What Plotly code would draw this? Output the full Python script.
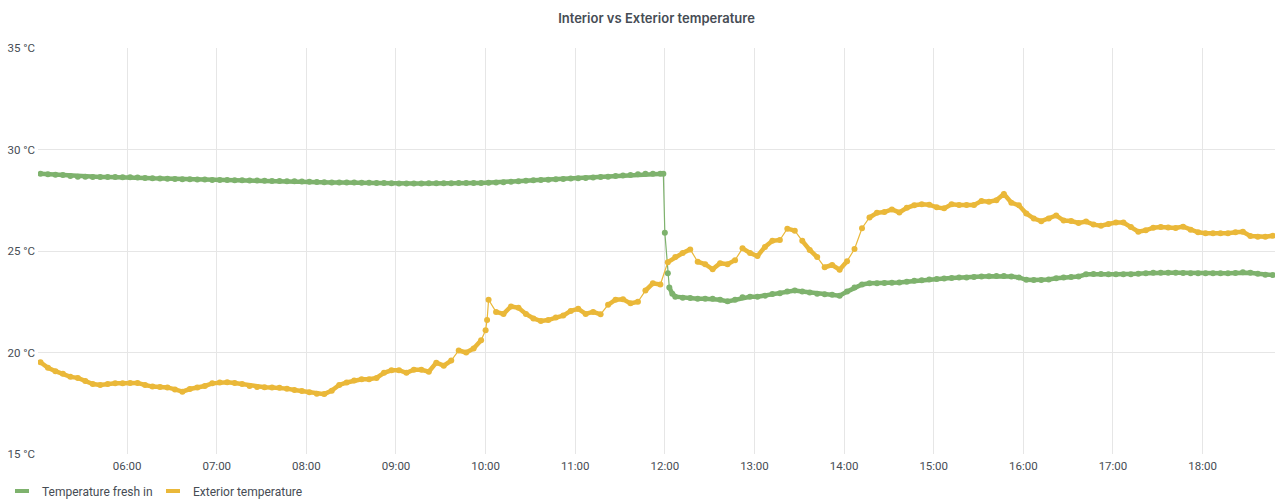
import pandas as pd
import plotly.graph_objects as go

# ---- data (5-minute samples from 05:02, one row per hour) ----
START = "2021-06-01 05:02"
exterior = [
    19.52, 19.25, 19.08, 18.95, 18.80, 18.75, 18.60, 18.45, 18.40, 18.45, 18.48, 18.48,  # 05
    18.50, 18.50, 18.40, 18.32, 18.30, 18.28, 18.18, 18.07, 18.20, 18.27, 18.35, 18.48,  # 06
    18.52, 18.53, 18.50, 18.45, 18.35, 18.30, 18.29, 18.28, 18.26, 18.22, 18.15, 18.10,  # 07
    18.04, 17.97, 17.95, 18.12, 18.40, 18.52, 18.62, 18.68, 18.68, 18.75, 19.00, 19.12,  # 08
    19.13, 19.00, 19.15, 19.15, 19.05, 19.50, 19.35, 19.60, 20.10, 20.00, 20.20, 20.60,  # 09
    22.60, 22.00, 21.90, 22.27, 22.20, 21.90, 21.68, 21.55, 21.60, 21.72, 21.82, 22.05,  # 10
    22.15, 21.90, 22.00, 21.88, 22.35, 22.60, 22.62, 22.42, 22.50, 23.05, 23.41, 23.35,  # 11
    24.45, 24.70, 24.90, 25.08, 24.47, 24.35, 24.10, 24.40, 24.35, 24.55, 25.13, 24.90,  # 12
    24.75, 25.20, 25.50, 25.54, 26.10, 26.00, 25.50, 25.05, 24.70, 24.20, 24.31, 24.08,  # 13
    24.50, 25.10, 26.12, 26.65, 26.88, 26.92, 27.05, 26.90, 27.13, 27.25, 27.30, 27.28,  # 14
    27.15, 27.10, 27.30, 27.27, 27.27, 27.27, 27.46, 27.43, 27.50, 27.81, 27.38, 27.25,  # 15
    26.85, 26.60, 26.47, 26.60, 26.75, 26.50, 26.48, 26.38, 26.45, 26.30, 26.25, 26.33,  # 16
    26.40, 26.40, 26.18, 25.95, 26.02, 26.15, 26.18, 26.16, 26.13, 26.20, 26.05, 25.92,  # 17
    25.88, 25.87, 25.87, 25.88, 25.92, 25.95, 25.74, 25.70, 25.70, 25.75,                # 18
]
exterior_extra_times = ["2021-06-01 10:00", "2021-06-01 10:01"]
exterior_extra = [21.10, 21.60]

interior = [
    28.80, 28.78, 28.76, 28.74, 28.70, 28.66, 28.66, 28.65, 28.65, 28.64, 28.64, 28.63,  # 05
    28.63, 28.62, 28.60, 28.58, 28.57, 28.56, 28.55, 28.53, 28.53, 28.52, 28.52, 28.50,  # 06
    28.50, 28.50, 28.49, 28.48, 28.47, 28.47, 28.46, 28.45, 28.45, 28.44, 28.43, 28.42,  # 07
    28.41, 28.40, 28.39, 28.38, 28.38, 28.37, 28.37, 28.36, 28.36, 28.35, 28.35, 28.34,  # 08
    28.33, 28.33, 28.33, 28.33, 28.34, 28.34, 28.34, 28.34, 28.35, 28.35, 28.35, 28.35,  # 09
    28.36, 28.37, 28.39, 28.41, 28.44, 28.46, 28.48, 28.50, 28.51, 28.53, 28.55, 28.57,  # 10
    28.58, 28.60, 28.62, 28.64, 28.66, 28.69, 28.72, 28.75, 28.78, 28.80, 28.80, 28.80,  # 11
    23.90, 22.75, 22.70, 22.68, 22.65, 22.65, 22.65, 22.60, 22.52, 22.60, 22.72, 22.75,  # 12
    22.75, 22.80, 22.88, 22.92, 23.00, 23.05, 23.00, 22.95, 22.90, 22.87, 22.84, 22.80,  # 13
    23.00, 23.20, 23.35, 23.41, 23.41, 23.42, 23.43, 23.45, 23.49, 23.53, 23.56, 23.60,  # 14
    23.62, 23.65, 23.67, 23.70, 23.70, 23.72, 23.74, 23.76, 23.77, 23.77, 23.74, 23.70,  # 15
    23.58, 23.57, 23.57, 23.60, 23.66, 23.70, 23.72, 23.74, 23.85, 23.87, 23.87, 23.86,  # 16
    23.85, 23.85, 23.86, 23.88, 23.91, 23.93, 23.93, 23.93, 23.93, 23.92, 23.91, 23.90,  # 17
    23.90, 23.90, 23.90, 23.90, 23.92, 23.95, 23.93, 23.88, 23.83, 23.82,                # 18
]
interior_extra_times = ["2021-06-01 11:59", "2021-06-01 12:00", "2021-06-01 12:03", "2021-06-01 12:05"]
interior_extra = [28.80, 25.90, 23.20, 22.90]

series_names = ["Temperature fresh in", "Exterior temperature"]
series_colors = ["#7EB26D", "#EAB839"]
title_text = "Interior vs Exterior temperature"
y_ticks = [15, 20, 25, 30, 35]


def build(values, extra_t, extra_v):
    s = pd.Series(values, index=pd.date_range(START, periods=len(values), freq="5min"))
    s = pd.concat([s, pd.Series(extra_v, index=pd.to_datetime(extra_t))]).sort_index()
    return s


def band(s, jump=0.45):
    # thick band through dense points, interrupted on steep jumps (drawn thin instead)
    xs, ys = [], []
    prev = None
    for t, v in s.items():
        if prev is not None and abs(v - prev) > jump:
            xs.append(None)
            ys.append(None)
        xs.append(t)
        ys.append(v)
        prev = v
    return xs, ys


s_int = build(interior, interior_extra_times, interior_extra)
s_ext = build(exterior, exterior_extra_times, exterior_extra)

fig = go.Figure()
for s, name, col in [(s_int, series_names[0], series_colors[0]),
                     (s_ext, series_names[1], series_colors[1])]:
    bx, by = band(s)
    fig.add_trace(go.Scatter(
        x=bx, y=by, mode="lines", connectgaps=False,
        line=dict(color=col, width=4.5), showlegend=False, hoverinfo="skip",
    ))
    fig.add_trace(go.Scatter(
        x=s.index, y=s.values, mode="lines+markers", name=name,
        line=dict(color=col, width=1.2),
        marker=dict(color=col, size=6, line=dict(width=0)),
        showlegend=False,
    ))
# legend entries (short bar symbols like Grafana)
for name, col in zip(series_names, series_colors):
    fig.add_trace(go.Scatter(
        x=[None], y=[None], mode="markers", name=name,
        marker=dict(symbol="line-ew", size=10, color=col,
                    line=dict(color=col, width=4)),
        showlegend=True,
    ))

font_main = "Roboto, Inter, sans-serif"
fig.update_layout(
    width=1277, height=500,
    margin=dict(l=38, r=2, t=48, b=46, autoexpand=False),
    paper_bgcolor="white", plot_bgcolor="white",
    font=dict(family=font_main, size=12, color="#464c54"),
    title=dict(text=title_text, x=0.5, xref="paper", xanchor="center",
               y=1 - 18 / 500, yref="container", yanchor="middle",
               font=dict(family="Inter, sans-serif", size=13, color="#464c54", weight=600)),
    showlegend=True,
    legend=dict(orientation="h", xref="container", yref="container",
                x=2 / 1277, xanchor="left", y=1 - 491 / 500, yanchor="middle",
                entrywidth=106, entrywidthmode="pixels",
                font=dict(size=12, color="#464c54"), itemclick=False,
                bgcolor="rgba(0,0,0,0)", tracegroupgap=0),
    hovermode="x",
)
fig.update_xaxes(
    type="date",
    range=["2021-06-01 05:00:20", "2021-06-01 18:48:30"],
    dtick=3600000, tickformat="%H:%M", automargin=False,
    showgrid=True, gridcolor="#e6e6e6", gridwidth=1,
    showline=False, zeroline=False, ticks="", ticklen=0, ticklabelstandoff=3,
    tickfont=dict(size=11.5, color="#464c54"),
)
fig.update_yaxes(
    range=[15, 35], tickvals=y_ticks, ticktext=[f"{v} °C" for v in y_ticks],
    automargin=False,
    showgrid=True, gridcolor="#e6e6e6", gridwidth=1,
    showline=False, zeroline=False, ticks="", ticklabelstandoff=2,
    tickfont=dict(size=11.5, color="#464c54"),
)

fig.write_html(
    "out.html",
    config={"displayModeBar": False},
    post_script="document.body.style.margin='0';",
)
